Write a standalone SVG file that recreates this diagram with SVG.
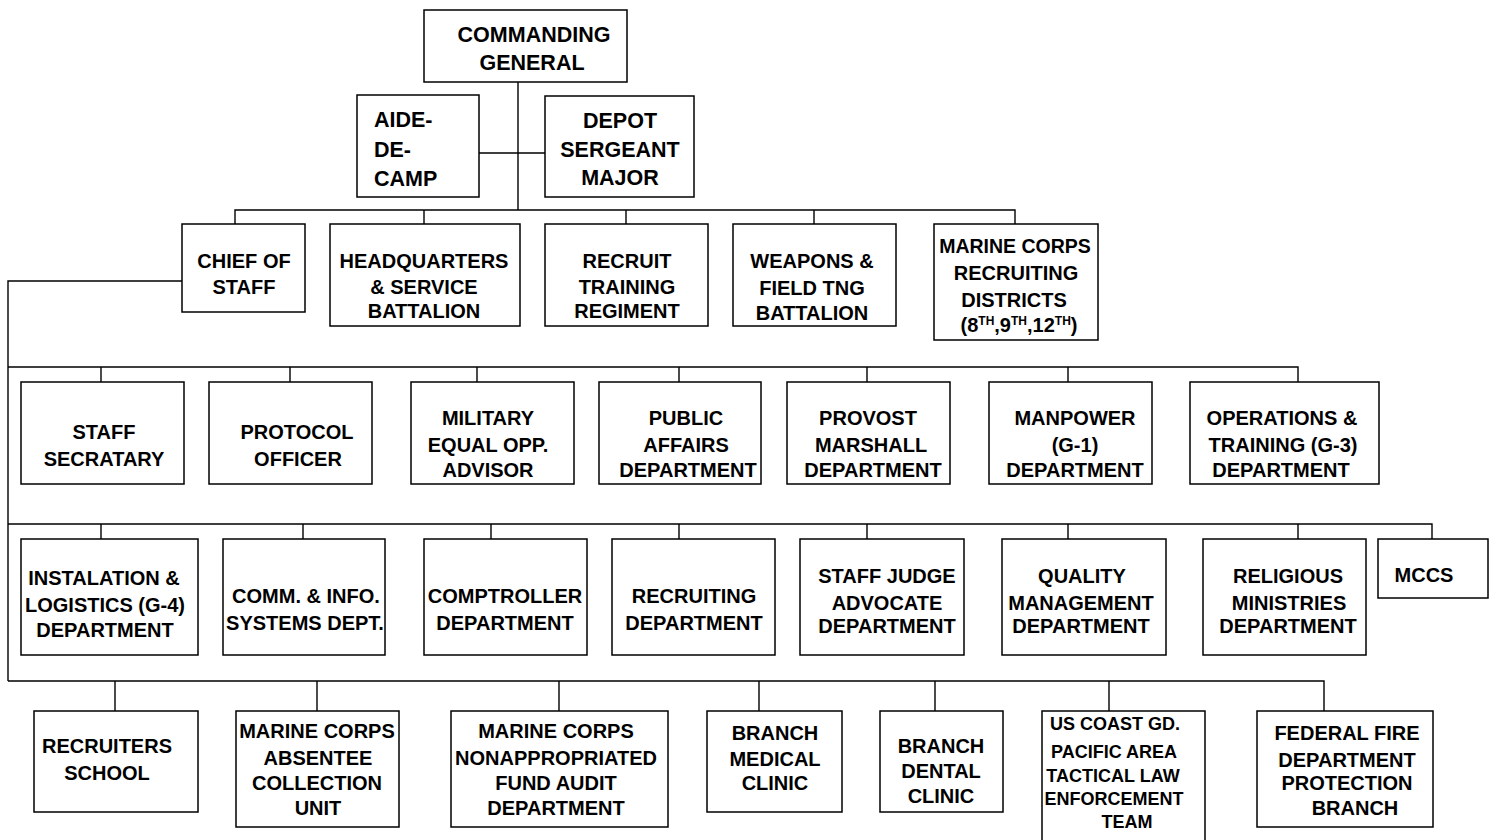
<svg xmlns="http://www.w3.org/2000/svg" width="1494" height="840" viewBox="0 0 1494 840">
<style>
.b{fill:#fff;stroke:#000;stroke-width:1.5}
.c{fill:none;stroke:#000;stroke-width:1.4}
text{font-family:"Liberation Sans",Arial,sans-serif;font-weight:bold;font-size:20px;fill:#000;text-anchor:middle}
.L{font-size:21.5px}
.s{font-size:18px}
.sup{font-size:12px}
</style>
<rect width="1494" height="840" fill="#fff"/>
<g id="connectors">
<path class="c" d="M518,82V210M479,153H545M235,224V210H1015V224M424,210V224M626,210V224M814,210V224"/>
<path class="c" d="M182,281H8V681"/>
<path class="c" d="M8,367H1298V382M101,367V382M290,367V382M477,367V382M679,367V382M867,367V382M1068,367V382"/>
<path class="c" d="M8,524H1432V539M101,524V539M303,524V539M491,524V539M679,524V539M867,524V539M1068,524V539M1298,524V539"/>
<path class="c" d="M8,681H1324V711M115,681V711M317,681V711M559,681V711M759,681V711M935,681V711M1109,681V711"/>
</g>
<g id="commanding-general"><rect class="b" x="424" y="10" width="203" height="72"/><text class="L" x="534" y="42">COMMANDING</text><text class="L" x="532" y="70">GENERAL</text></g>
<g id="aide-de-camp"><rect class="b" x="357" y="95" width="122" height="102"/><text class="L" x="374" y="127" style="text-anchor:start">AIDE-</text><text class="L" x="374" y="157" style="text-anchor:start">DE-</text><text class="L" x="374" y="186" style="text-anchor:start">CAMP</text></g>
<g id="depot-sergeant-major"><rect class="b" x="545" y="96" width="149" height="101"/><text class="L" x="620" y="128">DEPOT</text><text class="L" x="620" y="157">SERGEANT</text><text class="L" x="620" y="185">MAJOR</text></g>
<g id="chief-of-staff"><rect class="b" x="182" y="224" width="123" height="88"/><text x="244" y="268">CHIEF OF</text><text x="244" y="294">STAFF</text></g>
<g id="hq-service-bn"><rect class="b" x="330" y="224" width="190" height="102"/><text x="424" y="268">HEADQUARTERS</text><text x="424" y="294">&amp; SERVICE</text><text x="424" y="318">BATTALION</text></g>
<g id="recruit-training-regiment"><rect class="b" x="545" y="224" width="163" height="102"/><text x="627" y="268">RECRUIT</text><text x="627" y="294">TRAINING</text><text x="627" y="318">REGIMENT</text></g>
<g id="weapons-field-tng-bn"><rect class="b" x="733" y="224" width="163" height="102"/><text x="812" y="268">WEAPONS &amp;</text><text x="812" y="295">FIELD TNG</text><text x="812" y="320">BATTALION</text></g>
<g id="mc-recruiting-districts"><rect class="b" x="934" y="224" width="164" height="116"/><text x="1015" y="253" style="font-size:19.5px">MARINE CORPS</text><text x="1016" y="280">RECRUITING</text><text x="1014" y="307">DISTRICTS</text><text x="1019" y="332">(8<tspan class="sup" dy="-7">TH</tspan><tspan dy="7">,9</tspan><tspan class="sup" dy="-7">TH</tspan><tspan dy="7">,12</tspan><tspan class="sup" dy="-7">TH</tspan><tspan dy="7">)</tspan></text></g>
<g id="staff-secratary"><rect class="b" x="21" y="382" width="163" height="102"/><text x="104" y="439">STAFF</text><text x="104" y="466">SECRATARY</text></g>
<g id="protocol-officer"><rect class="b" x="209" y="382" width="163" height="102"/><text x="297" y="439">PROTOCOL</text><text x="298" y="466">OFFICER</text></g>
<g id="military-equal-opp"><rect class="b" x="411" y="382" width="163" height="102"/><text x="488" y="425">MILITARY</text><text x="488" y="452">EQUAL OPP.</text><text x="488" y="477">ADVISOR</text></g>
<g id="public-affairs"><rect class="b" x="599" y="382" width="162" height="102"/><text x="686" y="425">PUBLIC</text><text x="686" y="452">AFFAIRS</text><text x="688" y="477">DEPARTMENT</text></g>
<g id="provost-marshall"><rect class="b" x="787" y="382" width="163" height="102"/><text x="868" y="425">PROVOST</text><text x="871" y="452">MARSHALL</text><text x="873" y="477">DEPARTMENT</text></g>
<g id="manpower"><rect class="b" x="989" y="382" width="163" height="102"/><text x="1075" y="425">MANPOWER</text><text x="1075" y="452">(G-1)</text><text x="1075" y="477">DEPARTMENT</text></g>
<g id="operations-training"><rect class="b" x="1190" y="382" width="189" height="102"/><text x="1282" y="425">OPERATIONS &amp;</text><text x="1283" y="452">TRAINING (G-3)</text><text x="1281" y="477">DEPARTMENT</text></g>
<g id="installation-logistics"><rect class="b" x="21" y="539" width="177" height="116"/><text x="104" y="585">INSTALATION &amp;</text><text x="105" y="612">LOGISTICS (G-4)</text><text x="105" y="637">DEPARTMENT</text></g>
<g id="comm-info-systems"><rect class="b" x="223" y="539" width="162" height="116"/><text x="306" y="603">COMM. &amp; INFO.</text><text x="305" y="630">SYSTEMS DEPT.</text></g>
<g id="comptroller"><rect class="b" x="424" y="539" width="163" height="116"/><text x="505" y="603">COMPTROLLER</text><text x="505" y="630">DEPARTMENT</text></g>
<g id="recruiting-dept"><rect class="b" x="612" y="539" width="163" height="116"/><text x="694" y="603">RECRUITING</text><text x="694" y="630">DEPARTMENT</text></g>
<g id="staff-judge-advocate"><rect class="b" x="800" y="539" width="164" height="116"/><text x="887" y="583">STAFF JUDGE</text><text x="887" y="610">ADVOCATE</text><text x="887" y="633">DEPARTMENT</text></g>
<g id="quality-management"><rect class="b" x="1002" y="539" width="164" height="116"/><text x="1082" y="583">QUALITY</text><text x="1081" y="610">MANAGEMENT</text><text x="1081" y="633">DEPARTMENT</text></g>
<g id="religious-ministries"><rect class="b" x="1203" y="539" width="163" height="116"/><text x="1288" y="583">RELIGIOUS</text><text x="1289" y="610">MINISTRIES</text><text x="1288" y="633">DEPARTMENT</text></g>
<g id="mccs"><rect class="b" x="1378" y="539" width="110" height="59"/><text x="1424" y="582">MCCS</text></g>
<g id="recruiters-school"><rect class="b" x="34" y="711" width="164" height="101"/><text x="107" y="753">RECRUITERS</text><text x="107" y="780">SCHOOL</text></g>
<g id="mc-absentee-collection"><rect class="b" x="236" y="711" width="163" height="116"/><text x="317" y="738">MARINE CORPS</text><text x="318" y="765">ABSENTEE</text><text x="317" y="790">COLLECTION</text><text x="318" y="815">UNIT</text></g>
<g id="mc-naf-audit"><rect class="b" x="451" y="711" width="217" height="116"/><text x="556" y="738">MARINE CORPS</text><text x="556" y="765">NONAPPROPRIATED</text><text x="556" y="790">FUND AUDIT</text><text x="556" y="815">DEPARTMENT</text></g>
<g id="branch-medical-clinic"><rect class="b" x="707" y="711" width="135" height="101"/><text x="775" y="740">BRANCH</text><text x="775" y="766">MEDICAL</text><text x="775" y="790">CLINIC</text></g>
<g id="branch-dental-clinic"><rect class="b" x="880" y="711" width="123" height="101"/><text x="941" y="753">BRANCH</text><text x="941" y="778">DENTAL</text><text x="941" y="803">CLINIC</text></g>
<g id="uscg-tactical-law"><rect class="b" x="1042" y="711" width="163" height="140"/><text class="s" x="1115" y="730">US COAST GD.</text><text class="s" x="1114" y="758">PACIFIC AREA</text><text class="s" x="1113" y="782">TACTICAL LAW</text><text class="s" x="1114" y="805">ENFORCEMENT</text><text class="s" x="1127" y="828">TEAM</text></g>
<g id="federal-fire"><rect class="b" x="1257" y="711" width="176" height="116"/><text x="1347" y="740">FEDERAL FIRE</text><text x="1347" y="767">DEPARTMENT</text><text x="1347" y="790">PROTECTION</text><text x="1355" y="815">BRANCH</text></g>
</svg>
